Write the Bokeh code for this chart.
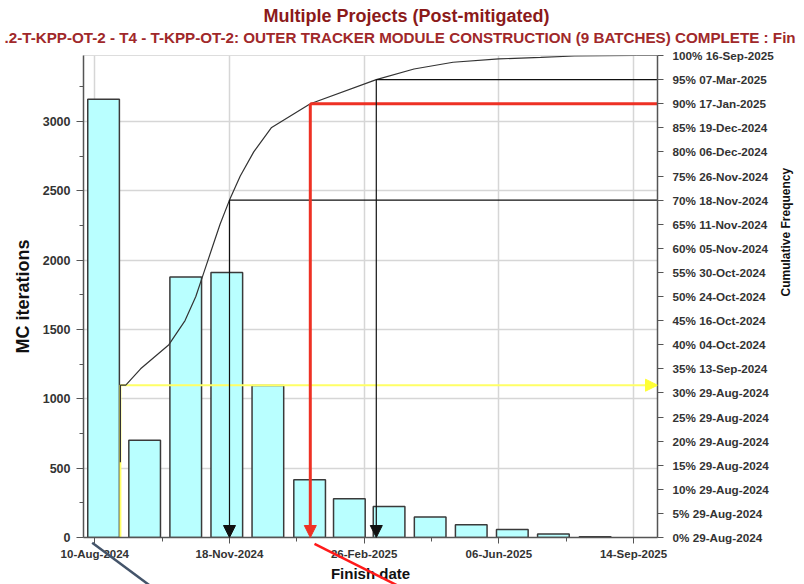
import math
import numpy as np
from bokeh.plotting import figure
from bokeh.models import (Range1d, LinearAxis, FixedTicker, DatetimeTickFormatter,
                          Arrow, NormalHead, Title, ColumnDataSource)
from bokeh.embed import file_html
from bokeh.resources import INLINE

DAY = 86400000.0


def ms(d):
    return float(np.datetime64(d, "ms").astype(np.int64))


# ---------------- data ----------------
bin_months = ["2024-08", "2024-09", "2024-10", "2024-11", "2024-12", "2025-01", "2025-02",
              "2025-03", "2025-04", "2025-05", "2025-06", "2025-07", "2025-08"]
mc_iterations = [3160, 702, 1878, 1911, 1095, 417, 279, 223, 148, 92, 58, 25, 6]

y_ticks = [0, 500, 1000, 1500, 2000, 2500, 3000]
y_minor = [250, 750, 1250, 1750, 2250, 2750, 3250]

x_tick_dates = ["2024-08-10", "2024-11-18", "2025-02-26", "2025-06-06", "2025-09-14"]
x_minor_dates = ["2024-09-29", "2025-01-07", "2025-04-17", "2025-07-26"]

pct_levels = [0, 5, 10, 15, 20, 25, 30, 35, 40, 45, 50, 55, 60, 65, 70, 75, 80, 85, 90, 95, 100]
pct_dates = ["29-Aug-2024", "29-Aug-2024", "29-Aug-2024", "29-Aug-2024", "29-Aug-2024",
             "29-Aug-2024", "29-Aug-2024", "13-Sep-2024", "04-Oct-2024", "16-Oct-2024",
             "24-Oct-2024", "30-Oct-2024", "05-Nov-2024", "11-Nov-2024", "18-Nov-2024",
             "26-Nov-2024", "06-Dec-2024", "19-Dec-2024", "17-Jan-2025", "07-Mar-2025",
             "16-Sep-2025"]

curve_dates = ["2024-08-29", "2024-08-29", "2024-09-02", "2024-09-13", "2024-10-04",
               "2024-10-16", "2024-10-24", "2024-10-30", "2024-11-05", "2024-11-11",
               "2024-11-18", "2024-11-26", "2024-12-06", "2024-12-19", "2025-01-17",
               "2025-03-07", "2025-04-04", "2025-05-03", "2025-06-06", "2025-07-07",
               "2025-08-01", "2025-09-16"]
curve_pct = [15.6, 31.6, 31.6, 35, 40, 45, 50, 55, 60, 65, 70, 75, 80, 85, 90, 95,
             97.2, 98.6, 99.3, 99.6, 99.9, 100]

marker_dates = ["2024-11-18", "2025-01-17", "2025-03-07"]
marker_levels = [70, 90, 95]
marker_colors = ["#111111", "#ee3124", "#111111"]
marker_widths = [1.2, 3.0, 1.2]

deterministic_date = "2024-08-29"
deterministic_pct = 31.6

title_text = "Multiple Projects (Post-mitigated)"
subtitle_text = ".2-T-KPP-OT-2 - T4 - T-KPP-OT-2: OUTER TRACKER MODULE CONSTRUCTION (9 BATCHES) COMPLETE : Fin"

# ---------------- derived ----------------
month_start = [np.datetime64(m, "M") for m in bin_months]
bar_x = [(ms(m.astype("datetime64[D]")) + ms((m + 1).astype("datetime64[D]"))) / 2 for m in month_start]

x0 = ms("2024-08-10")
x_start = x0 - 8.4 * DAY
x_end = x0 + 417.8 * DAY
Y_TOP = 3475

FONT = "Liberation Sans"
TXT = "#333333"
AX = "#555555"

W, H = 804, 584
BL, BR, BT, BB = 83, 147, 55, 47

p = figure(width=W, height=H, output_backend="svg", toolbar_location=None,
           x_axis_type="datetime", x_range=Range1d(x_start, x_end),
           y_range=Range1d(0, Y_TOP),
           min_border_left=BL, min_border_right=BR, min_border_top=BT, min_border_bottom=BB)
p.extra_y_ranges = {"pct": Range1d(0, 100)}
p.background_fill_color = "white"
p.border_fill_color = "white"
p.outline_line_color = "#dddddd"

# titles
p.add_layout(Title(text=subtitle_text, align="left", text_font=FONT, text_font_size="15.2px",
                   text_font_style="bold", text_color="#a0282a", standoff=20, offset=-79), "above")
p.add_layout(Title(text=title_text, align="left", text_font=FONT, text_font_size="18px",
                   text_font_style="bold", text_color="#8b1a1a", standoff=-18, offset=180), "above")

# x axis
xt = FixedTicker(ticks=[ms(d) for d in x_tick_dates], minor_ticks=[ms(d) for d in x_minor_dates])
fmt = "%d-%b-%Y"
p.xaxis.ticker = xt
p.xgrid.ticker = xt
p.xaxis.formatter = DatetimeTickFormatter(microseconds=fmt, milliseconds=fmt, seconds=fmt, minsec=fmt,
                                          minutes=fmt, hourmin=fmt, hours=fmt, days=fmt,
                                          months=fmt, years=fmt)
p.xaxis.axis_label = "Finish date"

# left axis
yt = FixedTicker(ticks=y_ticks, minor_ticks=y_minor)
p.yaxis.ticker = yt
p.ygrid.ticker = yt
p.yaxis.axis_label = "MC iterations"

for ax in [p.xaxis[0], p.yaxis[0]]:
    ax.axis_line_color = AX
    ax.axis_line_width = 1.5
    ax.major_tick_line_color = AX
    ax.minor_tick_line_color = AX
    ax.major_tick_out = 6
    ax.major_tick_in = 0
    ax.minor_tick_out = 4
    ax.minor_tick_in = 0
    ax.major_label_text_font = FONT
    ax.major_label_text_font_style = "bold"
    ax.major_label_text_color = TXT
    ax.axis_label_text_font = FONT
    ax.axis_label_text_font_style = "bold"
    ax.axis_label_text_color = "#111111"

p.xaxis.major_label_text_font_size = "11.5px"
p.xaxis.major_label_standoff = 4
p.xaxis.axis_label_text_font_size = "15px"
p.xaxis.axis_label_standoff = 2
p.yaxis.major_label_text_font_size = "12.5px"
p.yaxis.major_label_standoff = 6
p.yaxis.axis_label_text_font_size = "18px"
p.yaxis.axis_label_standoff = 7
p.yaxis.major_tick_out = 7

# right axis
ry = LinearAxis(y_range_name="pct", ticker=FixedTicker(ticks=pct_levels),
                major_label_overrides={lv: f"{lv}% {d}" for lv, d in zip(pct_levels, pct_dates)},
                axis_label="Cumulative Frequency")
ry.axis_line_color = AX
ry.axis_line_width = 1.5
ry.major_tick_line_color = AX
ry.major_tick_out = 6
ry.major_tick_in = 0
ry.major_label_standoff = 9
ry.major_label_text_font = FONT
ry.major_label_text_font_style = "bold"
ry.major_label_text_font_size = "11.7px"
ry.major_label_text_color = TXT
ry.axis_label_text_font = FONT
ry.axis_label_text_font_style = "bold"
ry.axis_label_text_font_size = "12px"
ry.axis_label_text_color = "#111111"
ry.axis_label_standoff = 9
ry.axis_label_orientation = math.pi / 2
p.add_layout(ry, "right")

for g in [p.xgrid[0], p.ygrid[0]]:
    g.grid_line_color = "#d6d6d6"
    g.grid_line_width = 1.5

# bars
p.vbar(x=bar_x, width=23.5 * DAY, top=mc_iterations, bottom=0,
       fill_color="#b9ffff", line_color="#3a3a3a", line_width=1.5)

# yellow deterministic line
dd = ms(deterministic_date)
p.line(x=[dd, dd, x_end], y=[0, deterministic_pct, deterministic_pct], y_range_name="pct",
       line_color="#ffff66", line_width=2)

# cumulative curve
p.line(x=[ms(d) for d in curve_dates], y=curve_pct, y_range_name="pct",
       line_color="#333333", line_width=1.2)

# percentile marker lines
msrc = ColumnDataSource(dict(x0=[ms(d) for d in marker_dates], y0=marker_levels,
                             x1=[x_end] * len(marker_dates), y1=marker_levels,
                             c=marker_colors, w=marker_widths))
p.segment(x0="x0", y0="y0", x1="x1", y1="y1", line_color="c", line_width="w",
          source=msrc, y_range_name="pct")
p.segment(x0=[ms(curve_dates[-1])], y0=[100], x1=[x_end], y1=[100], y_range_name="pct",
          line_color="#333333", line_width=1.2)

for d, lv, c, w in zip(marker_dates, marker_levels, marker_colors, marker_widths):
    p.add_layout(Arrow(end=NormalHead(size=12, fill_color=c, line_color=c, line_width=1),
                       x_start=ms(d), y_start=lv, x_end=ms(d), y_end=0,
                       line_color=c, line_width=w, y_range_name="pct"))

p.add_layout(Arrow(end=NormalHead(size=12, fill_color="#ffff33", line_color="#ffff33", line_width=1),
                   x_start=dd, y_start=deterministic_pct, x_end=x_end, y_end=deterministic_pct,
                   line_alpha=0, y_range_name="pct"))

# pen strokes drawn over the page below the axis (given as pixel offsets from the
# frame's bottom-left corner, converted through the plot scales)
frame_w = W - BL - BR
frame_h = H - BT - BB
px_x = (x_end - x_start) / frame_w
px_y = Y_TOP / frame_h
strokes = [((8.7, -5.3), (69.0, -50.0), "#44546a"),
           ((231.0, -6.3), (317.0, -49.5), "#ff1a1a")]
p.segment(x0=[x_start + s[0][0] * px_x for s in strokes],
          y0=[s[0][1] * px_y for s in strokes],
          x1=[x_start + s[1][0] * px_x for s in strokes],
          y1=[s[1][1] * px_y for s in strokes],
          line_color=[s[2] for s in strokes], line_width=2.5, level="overlay")

open("out.html", "w").write(file_html(p, INLINE))
